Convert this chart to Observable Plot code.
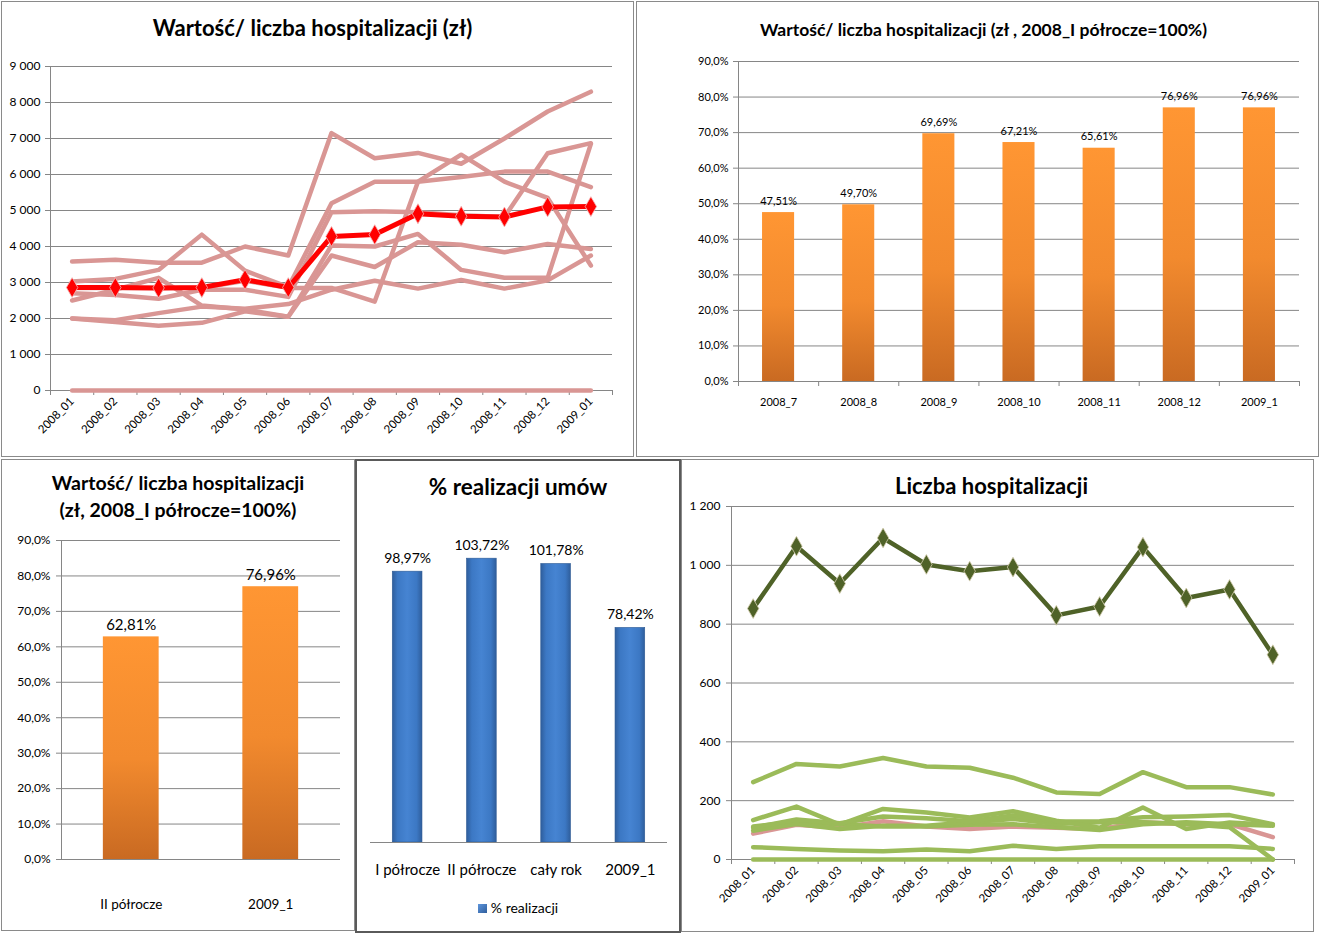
<!DOCTYPE html>
<html><head><meta charset="utf-8">
<script src="https://cdn.jsdelivr.net/npm/d3@7"></script>
<script src="https://cdn.jsdelivr.net/npm/@observablehq/plot@0.6"></script>
<style>
body{margin:0;background:#fff;font-family:Lato,"Noto Sans",sans-serif;}
#root{position:relative;width:1321px;height:934px;overflow:hidden;background:#fff;}
.panel{position:absolute;box-sizing:border-box;border:1px solid #8a8a8a;}
.txt{position:absolute;text-align:center;color:#000;white-space:nowrap;}
</style></head><body><div id="root"></div>
<script>
// ---------- DATA ----------
const months = ["2008_01","2008_02","2008_03","2008_04","2008_05","2008_06","2008_07","2008_08","2008_09","2008_10","2008_11","2008_12","2009_01"];

// Chart 1: Wartość / liczba hospitalizacji (zł)
const valAverage = [2860, 2860, 2850, 2860, 3080, 2860, 4280, 4330, 4910, 4840, 4820, 5100, 5110];
const valUnit1 = [3580, 3630, 3550, 3550, 4000, 3750, 7150, 6450, 6600, 6300, 7000, 7750, 8300];
const valUnit2 = [3030, 3100, 3350, 4330, 3330, 2870, 5200, 5800, 5800, 5930, 6080, 6080, 5650];
const valUnit3 = [2700, 2650, 2550, 2800, 2800, 2600, 4950, 4980, 4950, 4870, 4820, 6590, 6870];
const valUnit4 = [2500, 2800, 3130, 2360, 2250, 2050, 4030, 4000, 4350, 3350, 3130, 3130, 6850];
const valUnit5 = [2000, 1900, 1800, 1880, 2200, 2050, 3750, 3430, 4120, 4050, 3840, 4070, 3930];
const valUnit6 = [2000, 1950, 2150, 2330, 2270, 2400, 2800, 3050, 2830, 3070, 2830, 3060, 3750];
const valUnit7 = [2850, 2850, 2850, 2850, 3050, 2850, 2850, 2470, 5800, 6550, 5800, 5350, 3470];
const valUnit8 = [0, 0, 0, 0, 0, 0, 0, 0, 0, 0, 0, 0, 0];
const valTicks = [0, 1000, 2000, 3000, 4000, 5000, 6000, 7000, 8000, 9000];

// Chart 2: index by month (2008_I półrocze = 100%)
const idxMonths = ["2008_7","2008_8","2008_9","2008_10","2008_11","2008_12","2009_1"];
const idxValues = [47.51, 49.70, 69.69, 67.21, 65.61, 76.96, 76.96];
const pctTicks = [0, 10, 20, 30, 40, 50, 60, 70, 80, 90];

// Chart 3: index by half-year
const halfCats = ["II półrocze", "2009_1"];
const halfValues = [62.81, 76.96];

// Chart 4: % realizacji umów
const realCats = ["I półrocze", "II półrocze", "cały rok", "2009_1"];
const realValues = [98.97, 103.72, 101.78, 78.42];

// Chart 5: Liczba hospitalizacji
const hospTotal = [853, 1065, 938, 1093, 1003, 980, 994, 830, 860, 1062, 889, 918, 696];
const hospPink  = [88, 118, 108, 130, 112, 104, 112, 108, 104, 127, 120, 120, 76];
const hospA = [263, 325, 316, 345, 316, 312, 278, 228, 223, 297, 246, 246, 221];
const hospB = [134, 180, 119, 172, 160, 143, 164, 132, 108, 177, 104, 126, 118];
const hospC = [108, 136, 123, 146, 140, 130, 150, 129, 130, 144, 146, 151, 120];
const hospD = [98, 121, 104, 115, 115, 127, 138, 121, 127, 127, 121, 110, 0];
const hospE = [112, 128, 120, 112, 112, 118, 120, 110, 100, 120, 127, 120, 115];
const hospF = [42, 36, 31, 28, 34, 28, 47, 36, 45, 45, 45, 45, 36];
const hospG = [0, 0, 0, 0, 0, 0, 0, 0, 0, 0, 0, 0, 0];
const hospTicks = [0, 200, 400, 600, 800, 1000, 1200];

// ---------- HELPERS ----------
const root = document.getElementById("root");
const loc = d3.formatLocale({decimal: ",", thousands: "\u00a0", grouping: [3], currency: ["", ""]});
const fmtInt = loc.format(",d");
const pct1 = v => v.toFixed(1).replace(".", ",") + "%";
const pct2 = v => v.toFixed(2).replace(".", ",") + "%";
const GRID = "#868686";
const FONT = "Lato, 'Noto Sans', sans-serif";

function panel(l, t, w, h, css) {
  const d = document.createElement("div");
  d.className = "panel";
  Object.assign(d.style, {left: l + "px", top: t + "px", width: w + "px", height: h + "px"}, css || {});
  root.appendChild(d);
}
function text(l, t, w, html, css) {
  const d = document.createElement("div");
  d.className = "txt";
  d.innerHTML = html;
  Object.assign(d.style, {left: l + "px", top: t + "px", width: w + "px"}, css || {});
  root.appendChild(d);
  return d;
}
function place(svg, l, t) {
  Object.assign(svg.style, {position: "absolute", left: l + "px", top: t + "px"});
  root.appendChild(svg);
}
function addGradient(svg, id, stops, horizontal) {
  const ns = "http://www.w3.org/2000/svg";
  const defs = document.createElementNS(ns, "defs");
  const g = document.createElementNS(ns, "linearGradient");
  g.setAttribute("id", id);
  g.setAttribute("x1", "0"); g.setAttribute("y1", "0");
  g.setAttribute("x2", horizontal ? "1" : "0"); g.setAttribute("y2", horizontal ? "0" : "1");
  for (const [o, c] of stops) {
    const s = document.createElementNS(ns, "stop");
    s.setAttribute("offset", o); s.setAttribute("stop-color", c);
    g.appendChild(s);
  }
  defs.appendChild(g);
  svg.insertBefore(defs, svg.firstChild);
}
const baseStyle = {background: "transparent", fontFamily: FONT, fontSize: "12px", color: "#000", overflow: "visible"};

function long(seriesList) {
  const out = [];
  seriesList.forEach((s, k) => s.forEach((v, i) => out.push({k, i, v})));
  return out;
}
const idx = months.map((m, i) => i);
const bounds = d3.range(months.length + 1).map(i => i - 0.5);

// ---------- PANELS ----------
panel(1, 1, 633, 456);
panel(636, 1, 683, 456);
panel(1, 459, 354, 472);
panel(681, 459, 633, 473);
panel(355, 459, 326, 474, {border: "2px solid #5a5a5a"});

// ---------- CHART 1 ----------
text(1, 14, 633, "Wartość/ liczba hospitalizacji (zł)", {fontWeight: "bold", fontSize: "22px", lineHeight: "28px", left: "-4px"});
{
  const pinks = long([valUnit8, valUnit1, valUnit2, valUnit3, valUnit4, valUnit5, valUnit6, valUnit7]);
  const avg = valAverage.map((v, i) => ({i, v}));
  const svg = Plot.plot({
    width: 631, height: 454,
    marginLeft: 48, marginTop: 64, marginRight: 21, marginBottom: 66,
    style: baseStyle,
    x: {type: "linear", domain: [-0.5, months.length - 0.5]},
    y: {domain: [0, 9000]},
    marks: [
      Plot.ruleY(valTicks, {y: d => d, stroke: GRID, strokeWidth: 1, strokeOpacity: 1}),
      Plot.ruleX([-0.5], {x: d => d, stroke: GRID, strokeOpacity: 1}),
      Plot.axisY({ticks: valTicks, tickSize: 5, tickPadding: 5, tickFormat: fmtInt, label: null, stroke: GRID, strokeOpacity: 1, fontSize: 12}),
      Plot.axisX({ticks: bounds, tickSize: 5, tickFormat: () => "", label: null, stroke: GRID, strokeOpacity: 1}),
      Plot.axisX({ticks: idx, tickSize: 0, tickPadding: 9, tickRotate: -45, tickFormat: i => months[i], label: null, fontSize: 11.5}),
      Plot.line(pinks, {x: "i", y: "v", z: "k", stroke: "#D99694", strokeWidth: 4.5}),
      Plot.line(avg, {x: "i", y: "v", stroke: "#FF0000", strokeWidth: 5}),
      Plot.dot(avg, {x: "i", y: "v", symbol: "diamond", r: 6, fill: "#FF0000", stroke: "#f2b8b8", strokeWidth: 0.8})
    ]
  });
  place(svg, 2, 2);
}

// ---------- CHART 2 ----------
text(636, 18, 683, "Wartość/ liczba hospitalizacji (zł , 2008_I półrocze=100%)", {fontWeight: "bold", fontSize: "17.5px", lineHeight: "24px", left: "642px"});
{
  const data = idxValues.map((v, i) => ({i, v}));
  const svg = Plot.plot({
    width: 682, height: 454,
    marginLeft: 101, marginTop: 59, marginRight: 20, marginBottom: 75,
    style: baseStyle,
    x: {type: "linear", domain: [-0.5, idxMonths.length - 0.5]},
    y: {domain: [0, 90]},
    marks: [
      Plot.ruleY(pctTicks, {y: d => d, stroke: GRID, strokeWidth: 1, strokeOpacity: 1}),
      Plot.ruleX([-0.5], {x: d => d, stroke: GRID, strokeOpacity: 1}),
      Plot.axisY({ticks: pctTicks, tickSize: 5, tickPadding: 5, tickFormat: pct1, label: null, stroke: GRID, strokeOpacity: 1, fontSize: 11}),
      Plot.axisX({ticks: d3.range(idxMonths.length + 1).map(i => i - 0.5), tickSize: 5, tickFormat: () => "", label: null, stroke: GRID, strokeOpacity: 1}),
      Plot.axisX({ticks: d3.range(idxMonths.length), tickSize: 0, tickPadding: 17, tickFormat: i => idxMonths[i], label: null, fontSize: 11}),
      Plot.rectY(data, {x1: d => d.i - 0.2, x2: d => d.i + 0.2, y1: 0, y2: "v", fill: "url(#gOrange1)"}),
      Plot.text(data, {x: "i", y: "v", text: d => pct2(d.v), dy: -8, lineAnchor: "bottom", fontSize: 11})
    ]
  });
  addGradient(svg, "gOrange1", [["0", "#FF9633"], ["0.55", "#F28A2E"], ["1", "#C96A22"]]);
  place(svg, 637, 2);
}

// ---------- CHART 3 ----------
text(1, 469, 354, "Wartość/ liczba hospitalizacji<br>(zł, 2008_I półrocze=100%)", {fontWeight: "bold", fontSize: "19.5px", lineHeight: "27px"});
{
  const data = halfValues.map((v, i) => ({i, v}));
  const svg = Plot.plot({
    width: 352, height: 470,
    marginLeft: 59, marginTop: 80, marginRight: 14, marginBottom: 71,
    style: baseStyle,
    x: {type: "linear", domain: [-0.5, halfCats.length - 0.5]},
    y: {domain: [0, 90]},
    marks: [
      Plot.ruleY(pctTicks, {y: d => d, stroke: GRID, strokeWidth: 1, strokeOpacity: 1}),
      Plot.ruleX([-0.5], {x: d => d, stroke: GRID, strokeOpacity: 1}),
      Plot.axisY({ticks: pctTicks, tickSize: 5, tickPadding: 6, tickFormat: pct1, label: null, stroke: GRID, strokeOpacity: 1, fontSize: 12}),
      Plot.axisX({ticks: d3.range(halfCats.length), tickSize: 0, tickPadding: 40, tickFormat: i => halfCats[i], label: null, fontSize: 13.5}),
      Plot.rectY(data, {x1: d => d.i - 0.2, x2: d => d.i + 0.2, y1: 0, y2: "v", fill: "url(#gOrange2)"}),
      Plot.text(data, {x: "i", y: "v", text: d => pct2(d.v), dy: -7, lineAnchor: "bottom", fontSize: 15})
    ]
  });
  addGradient(svg, "gOrange2", [["0", "#FF9633"], ["0.55", "#F28A2E"], ["1", "#C96A22"]]);
  place(svg, 2, 460);
}

// ---------- CHART 4 ----------
text(355, 472, 326, "% realizacji umów", {fontWeight: "bold", fontSize: "22.5px", lineHeight: "30px"});
{
  const data = realValues.map((v, i) => ({i, v}));
  const svg = Plot.plot({
    width: 325, height: 472,
    marginLeft: 14, marginTop: 81, marginRight: 14, marginBottom: 90,
    style: baseStyle,
    x: {type: "linear", domain: [-0.5, realCats.length - 0.5], axis: null},
    y: {domain: [0, 110], axis: null},
    marks: [
      Plot.rectY(data, {x1: d => d.i - 0.2, x2: d => d.i + 0.2, y1: 0, y2: "v", fill: "url(#gBlue)", stroke: "#2d5a94", strokeWidth: 0.6}),
      Plot.ruleY([0], {y: d => d, stroke: GRID, strokeWidth: 1, strokeOpacity: 1}),
      Plot.axisX({ticks: d3.range(realCats.length), tickSize: 0, tickPadding: 22, tickFormat: i => realCats[i], label: null, fontSize: 15}),
      Plot.text(data, {x: "i", y: "v", text: d => pct2(d.v), dy: -9, lineAnchor: "bottom", fontSize: 14})
    ]
  });
  addGradient(svg, "gBlue", [["0", "#2F5E9C"], ["0.18", "#3C78C4"], ["0.5", "#4684D2"], ["0.82", "#3C78C4"], ["1", "#2F5E9C"]], true);
  place(svg, 356, 460);
}
text(355, 898, 326, '<span style="display:inline-block;width:9px;height:9px;background:linear-gradient(135deg,#5d95dc,#2f5e9c);margin-right:4px;vertical-align:0px"></span>% realizacji', {fontSize: "14px", lineHeight: "20px"});

// ---------- CHART 5 ----------
text(681, 472, 633, "Liczba hospitalizacji", {fontWeight: "bold", fontSize: "22px", lineHeight: "28px", left: "675px"});
{
  const pink = hospPink.map((v, i) => ({i, v}));
  const greens = long([hospG, hospF, hospE, hospD, hospC, hospB, hospA]);
  const total = hospTotal.map((v, i) => ({i, v}));
  const svg = Plot.plot({
    width: 632, height: 472,
    marginLeft: 49, marginTop: 46, marginRight: 20, marginBottom: 73,
    style: baseStyle,
    x: {type: "linear", domain: [-0.5, months.length - 0.5]},
    y: {domain: [0, 1200]},
    marks: [
      Plot.ruleY(hospTicks, {y: d => d, stroke: GRID, strokeWidth: 1, strokeOpacity: 1}),
      Plot.ruleX([-0.5], {x: d => d, stroke: GRID, strokeOpacity: 1}),
      Plot.axisY({ticks: hospTicks, tickSize: 5, tickPadding: 6, tickFormat: fmtInt, label: null, stroke: GRID, strokeOpacity: 1, fontSize: 12}),
      Plot.axisX({ticks: bounds, tickSize: 5, tickFormat: () => "", label: null, stroke: GRID, strokeOpacity: 1}),
      Plot.axisX({ticks: idx, tickSize: 0, tickPadding: 9, tickRotate: -45, tickFormat: i => months[i], label: null, fontSize: 11.5}),
      Plot.line(pink, {x: "i", y: "v", stroke: "#D99694", strokeWidth: 4.5}),
      Plot.line(greens, {x: "i", y: "v", z: "k", stroke: "#9BBB59", strokeWidth: 4.5}),
      Plot.line(total, {x: "i", y: "v", stroke: "#4F6228", strokeWidth: 4.5}),
      Plot.dot(total, {x: "i", y: "v", symbol: "diamond", r: 6, fill: "#4F6228", stroke: "#d6ceb0", strokeWidth: 0.8})
    ]
  });
  place(svg, 682, 460);
}
</script></body></html>
